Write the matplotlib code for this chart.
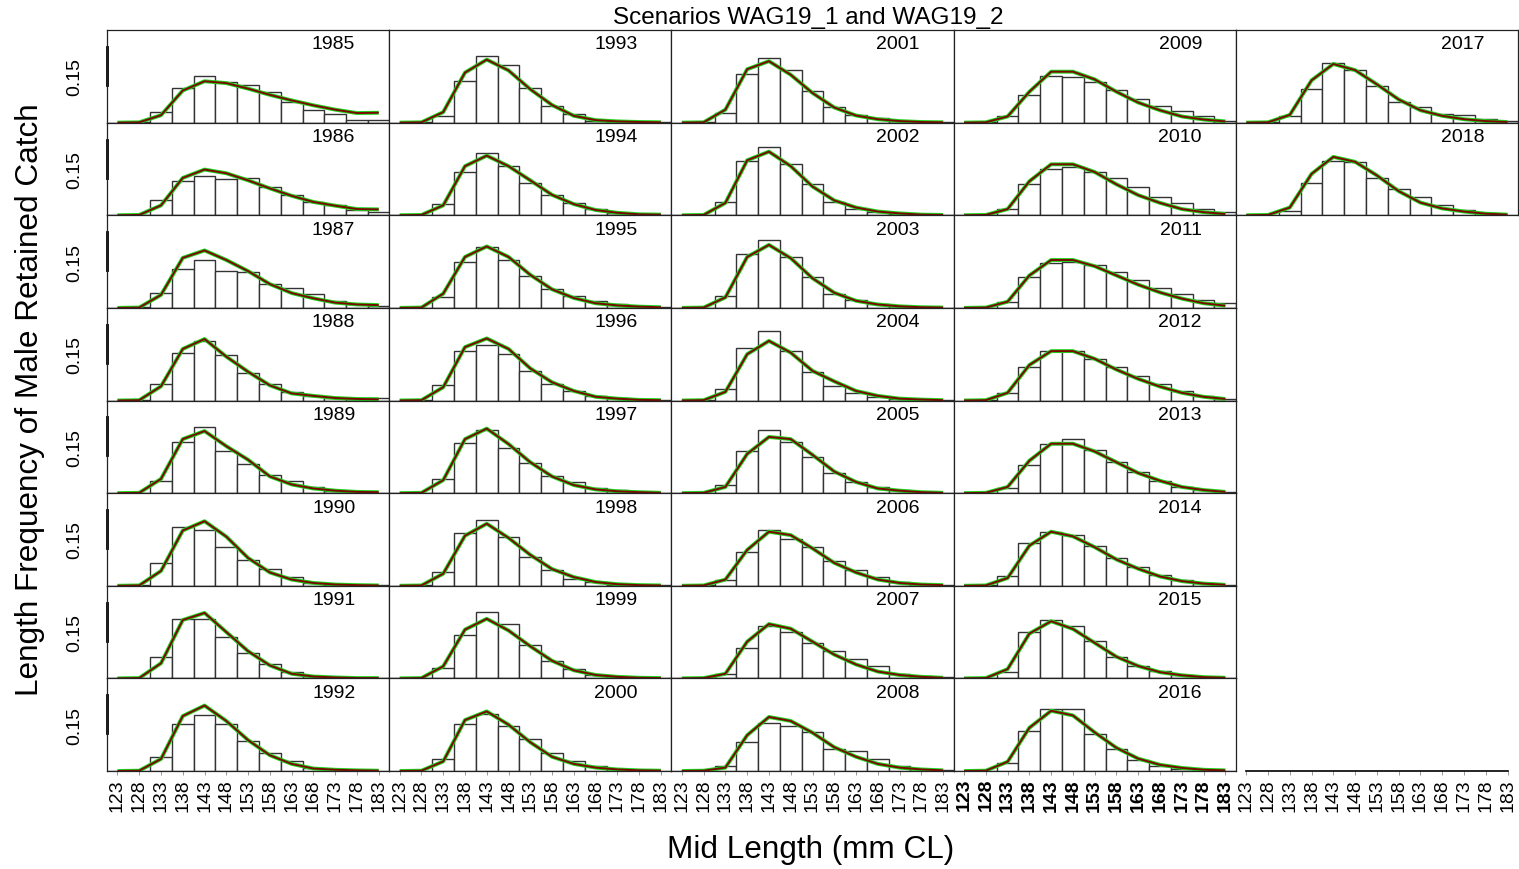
import numpy as np
import matplotlib.pyplot as plt

plt.rcParams['font.family'] = ['Liberation Sans', 'DejaVu Sans']

# mid lengths (mm CL) of the size bins
mid_length = [123, 128, 133, 138, 143, 148, 153, 158, 163, 168, 173, 178, 183]
years = list(range(1985, 2019))

obs = {
    1985: [0, 0.001, 0.036, 0.113, 0.150, 0.132, 0.122, 0.100, 0.066, 0.040, 0.027, 0.009, 0.008],
    1986: [0, 0.002, 0.051, 0.110, 0.128, 0.119, 0.122, 0.090, 0.066, 0.043, 0.032, 0.017, 0.011],
    1987: [0, 0.002, 0.048, 0.127, 0.155, 0.119, 0.116, 0.076, 0.063, 0.045, 0.023, 0.011, 0.006],
    1988: [0, 0.002, 0.054, 0.155, 0.193, 0.147, 0.088, 0.054, 0.028, 0.015, 0.008, 0.005, 0.008],
    1989: [0, 0.001, 0.039, 0.167, 0.215, 0.136, 0.093, 0.059, 0.039, 0.019, 0.008, 0.003, 0.002],
    1990: [0, 0.001, 0.074, 0.190, 0.179, 0.125, 0.082, 0.054, 0.028, 0.008, 0.004, 0.002, 0.001],
    1991: [0, 0.001, 0.068, 0.193, 0.193, 0.133, 0.083, 0.045, 0.022, 0.009, 0.002, 0.002, 0.002],
    1992: [0, 0.001, 0.046, 0.152, 0.182, 0.152, 0.097, 0.057, 0.031, 0.011, 0.005, 0.002, 0.001],
    1993: [0, 0.003, 0.022, 0.134, 0.215, 0.186, 0.111, 0.054, 0.029, 0.006, 0.003, 0.002, 0.001],
    1994: [0, 0.001, 0.036, 0.141, 0.203, 0.159, 0.105, 0.066, 0.039, 0.019, 0.008, 0.002, 0.002],
    1995: [0, 0.001, 0.034, 0.150, 0.196, 0.155, 0.104, 0.062, 0.037, 0.022, 0.011, 0.005, 0.002],
    1996: [0, 0.001, 0.049, 0.161, 0.181, 0.152, 0.097, 0.054, 0.031, 0.015, 0.008, 0.003, 0.001],
    1997: [0, 0.001, 0.046, 0.162, 0.204, 0.147, 0.097, 0.057, 0.036, 0.015, 0.011, 0.004, 0.001],
    1998: [0, 0.001, 0.043, 0.172, 0.213, 0.159, 0.094, 0.051, 0.023, 0.012, 0.004, 0.002, 0.002],
    1999: [0, 0.001, 0.034, 0.142, 0.215, 0.176, 0.108, 0.057, 0.029, 0.011, 0.005, 0.002, 0.001],
    2000: [0, 0.001, 0.039, 0.152, 0.186, 0.147, 0.104, 0.057, 0.031, 0.015, 0.008, 0.003, 0.001],
    2001: [0, 0.003, 0.031, 0.158, 0.209, 0.169, 0.104, 0.049, 0.026, 0.015, 0.006, 0.003, 0.002],
    2002: [0, 0.001, 0.043, 0.175, 0.221, 0.167, 0.100, 0.043, 0.020, 0.012, 0.005, 0.002, 0.001],
    2003: [0, 0.001, 0.039, 0.176, 0.220, 0.165, 0.100, 0.046, 0.026, 0.011, 0.005, 0.002, 0.001],
    2004: [0, 0.001, 0.036, 0.170, 0.224, 0.159, 0.093, 0.046, 0.023, 0.011, 0.004, 0.002, 0.001],
    2005: [0, 0.001, 0.026, 0.136, 0.204, 0.165, 0.116, 0.065, 0.036, 0.019, 0.011, 0.004, 0.002],
    2006: [0, 0.001, 0.020, 0.108, 0.182, 0.152, 0.125, 0.079, 0.051, 0.028, 0.012, 0.005, 0.002],
    2007: [0, 0.001, 0.015, 0.100, 0.170, 0.150, 0.114, 0.088, 0.062, 0.039, 0.015, 0.008, 0.003],
    2008: [0, 0.001, 0.015, 0.093, 0.155, 0.147, 0.127, 0.070, 0.065, 0.039, 0.015, 0.008, 0.003],
    2009: [0, 0.001, 0.020, 0.090, 0.150, 0.149, 0.130, 0.107, 0.078, 0.055, 0.039, 0.020, 0.006],
    2010: [0, 0.001, 0.020, 0.100, 0.150, 0.155, 0.140, 0.120, 0.090, 0.060, 0.040, 0.020, 0.010],
    2011: [0, 0.001, 0.020, 0.100, 0.145, 0.150, 0.140, 0.115, 0.090, 0.065, 0.045, 0.025, 0.015],
    2012: [0, 0.001, 0.025, 0.110, 0.160, 0.160, 0.135, 0.110, 0.080, 0.055, 0.030, 0.015, 0.006],
    2013: [0, 0.001, 0.015, 0.090, 0.160, 0.175, 0.140, 0.100, 0.070, 0.040, 0.020, 0.010, 0.005],
    2014: [0, 0.001, 0.030, 0.140, 0.175, 0.165, 0.130, 0.090, 0.060, 0.035, 0.020, 0.008, 0.003],
    2015: [0, 0.001, 0.020, 0.150, 0.190, 0.170, 0.120, 0.070, 0.040, 0.025, 0.012, 0.005, 0.002],
    2016: [0, 0.001, 0.025, 0.130, 0.200, 0.200, 0.120, 0.070, 0.035, 0.015, 0.008, 0.003, 0.001],
    2017: [0, 0.002, 0.022, 0.108, 0.194, 0.170, 0.118, 0.068, 0.052, 0.029, 0.024, 0.011, 0.005],
    2018: [0, 0.001, 0.014, 0.105, 0.177, 0.172, 0.121, 0.084, 0.060, 0.034, 0.016, 0.006, 0.002],
}

# model fit (WAG19_1 and WAG19_2 lie on top of each other)
fit = {
    1985: [0, 0.001, 0.024, 0.104, 0.134, 0.128, 0.110, 0.090, 0.072, 0.056, 0.042, 0.031, 0.032],
    1986: [0, 0.001, 0.032, 0.121, 0.148, 0.136, 0.113, 0.087, 0.063, 0.043, 0.031, 0.020, 0.019],
    1987: [0, 0.001, 0.042, 0.162, 0.186, 0.155, 0.119, 0.077, 0.048, 0.031, 0.017, 0.011, 0.009],
    1988: [0, 0.001, 0.046, 0.167, 0.199, 0.142, 0.093, 0.049, 0.023, 0.015, 0.008, 0.005, 0.004],
    1989: [0, 0.001, 0.046, 0.175, 0.201, 0.152, 0.108, 0.054, 0.028, 0.015, 0.008, 0.004, 0.003],
    1990: [0, 0.001, 0.048, 0.179, 0.209, 0.159, 0.090, 0.043, 0.020, 0.009, 0.004, 0.002, 0.001],
    1991: [0, 0.001, 0.049, 0.189, 0.212, 0.150, 0.088, 0.042, 0.015, 0.006, 0.003, 0.001, 0.001],
    1992: [0, 0.001, 0.039, 0.178, 0.212, 0.162, 0.100, 0.051, 0.023, 0.008, 0.004, 0.002, 0.001],
    1993: [0, 0.001, 0.034, 0.162, 0.204, 0.169, 0.108, 0.057, 0.022, 0.008, 0.004, 0.002, 0.001],
    1994: [0, 0.001, 0.032, 0.159, 0.193, 0.159, 0.113, 0.066, 0.036, 0.017, 0.008, 0.003, 0.002],
    1995: [0, 0.001, 0.046, 0.165, 0.199, 0.165, 0.107, 0.060, 0.032, 0.015, 0.008, 0.004, 0.002],
    1996: [0, 0.001, 0.043, 0.173, 0.201, 0.167, 0.104, 0.059, 0.031, 0.012, 0.006, 0.002, 0.001],
    1997: [0, 0.001, 0.042, 0.175, 0.209, 0.159, 0.100, 0.054, 0.026, 0.012, 0.006, 0.003, 0.001],
    1998: [0, 0.001, 0.039, 0.162, 0.201, 0.155, 0.100, 0.054, 0.028, 0.012, 0.005, 0.002, 0.001],
    1999: [0, 0.001, 0.039, 0.158, 0.193, 0.155, 0.104, 0.057, 0.026, 0.011, 0.005, 0.002, 0.001],
    2000: [0, 0.001, 0.031, 0.165, 0.193, 0.150, 0.093, 0.046, 0.023, 0.011, 0.005, 0.002, 0.001],
    2001: [0, 0.001, 0.042, 0.173, 0.199, 0.155, 0.096, 0.049, 0.023, 0.011, 0.005, 0.002, 0.001],
    2002: [0, 0.001, 0.040, 0.178, 0.206, 0.159, 0.093, 0.048, 0.025, 0.012, 0.006, 0.002, 0.001],
    2003: [0, 0.001, 0.034, 0.165, 0.204, 0.161, 0.096, 0.049, 0.023, 0.011, 0.005, 0.002, 0.001],
    2004: [0, 0.001, 0.028, 0.150, 0.193, 0.155, 0.096, 0.062, 0.031, 0.015, 0.006, 0.003, 0.001],
    2005: [0, 0.001, 0.020, 0.127, 0.182, 0.175, 0.124, 0.070, 0.036, 0.015, 0.008, 0.003, 0.001],
    2006: [0, 0.001, 0.020, 0.116, 0.175, 0.164, 0.121, 0.074, 0.043, 0.020, 0.009, 0.004, 0.002],
    2007: [0, 0.001, 0.015, 0.119, 0.176, 0.161, 0.119, 0.077, 0.045, 0.022, 0.011, 0.005, 0.002],
    2008: [0, 0.001, 0.011, 0.116, 0.175, 0.162, 0.124, 0.077, 0.046, 0.023, 0.011, 0.005, 0.002],
    2009: [0, 0.001, 0.020, 0.100, 0.165, 0.165, 0.140, 0.100, 0.065, 0.040, 0.020, 0.010, 0.004],
    2010: [0, 0.001, 0.020, 0.110, 0.165, 0.165, 0.140, 0.100, 0.065, 0.040, 0.020, 0.010, 0.004],
    2011: [0, 0.001, 0.020, 0.105, 0.155, 0.155, 0.135, 0.105, 0.075, 0.050, 0.030, 0.015, 0.007],
    2012: [0, 0.001, 0.025, 0.115, 0.160, 0.160, 0.135, 0.100, 0.070, 0.045, 0.025, 0.012, 0.005],
    2013: [0, 0.001, 0.020, 0.105, 0.160, 0.160, 0.135, 0.100, 0.065, 0.040, 0.020, 0.010, 0.004],
    2014: [0, 0.001, 0.025, 0.130, 0.175, 0.160, 0.125, 0.085, 0.055, 0.030, 0.015, 0.007, 0.003],
    2015: [0, 0.001, 0.030, 0.145, 0.185, 0.160, 0.115, 0.070, 0.040, 0.020, 0.010, 0.004, 0.002],
    2016: [0, 0.001, 0.030, 0.140, 0.195, 0.180, 0.125, 0.075, 0.040, 0.020, 0.010, 0.004, 0.002],
    2017: [0, 0.001, 0.025, 0.137, 0.190, 0.170, 0.124, 0.075, 0.040, 0.022, 0.011, 0.005, 0.002],
    2018: [0, 0.001, 0.025, 0.134, 0.189, 0.173, 0.129, 0.078, 0.041, 0.022, 0.012, 0.005, 0.002],
}

W, H = 1519, 870
fig = plt.figure(figsize=(W / 100, H / 100), dpi=100)

# panel grid in pixels
left, right, top, bottom = 107, 1518, 31, 772
ncol, nrow = 5, 8
pw = (right - left) / ncol
ph = (bottom - top) / nrow
xlim = (120.6, 185.4)
ylim = (0, 0.3)


def panel(col, row):
    x0 = left + col * pw
    y0 = top + (row + 1) * ph
    return fig.add_axes([x0 / W, 1 - y0 / H, pw / W, ph / H])


def bottom_ticks(ax, bold=False):
    ax.set_xticks(mid_length)
    ax.set_xticklabels([str(m) for m in mid_length], rotation=90, fontsize=14,
                       fontweight='bold' if bold else 'normal')
    ax.tick_params(axis='x', length=3, width=0.6, color='#888888', pad=2)


for i, yr in enumerate(years):
    col, row = divmod(i, nrow)
    ax = panel(col, row)
    ax.bar(mid_length, obs[yr], width=5, color='white', edgecolor='#333333', linewidth=1)
    ax.plot(mid_length, fit[yr], color='#1ed41e', lw=2.8, solid_capstyle='butt')
    ax.plot(mid_length, fit[yr], color='#7a0a00', lw=1.4, solid_capstyle='butt')
    ax.set_xlim(*xlim)
    ax.set_ylim(*ylim)
    for s in ax.spines.values():
        s.set_linewidth(0.9)
        s.set_color('#222222')
    ax.text(0.88, 0.85, str(yr), transform=ax.transAxes, ha='right', va='center', fontsize=14)
    if row == nrow - 1:
        bottom_ticks(ax, bold=(col == 3))
    else:
        ax.set_xticks([])
    if col == 0:
        ax.set_yticks([0.15])
        ax.set_yticklabels(['0.15'], rotation=90, va='center', fontsize=14)
        ax.tick_params(axis='y', length=0, pad=17)
        ax.plot([0, 0], [0.122, 0.245], transform=ax.get_yaxis_transform(),
                color='black', lw=2, clip_on=False)
    else:
        ax.set_yticks([])

# empty bottom-right panel: only the x axis
ax = panel(4, nrow - 1)
ax.set_xlim(*xlim)
ax.set_ylim(*ylim)
for s in ['top', 'left', 'right']:
    ax.spines[s].set_visible(False)
ax.spines['bottom'].set_bounds(mid_length[0], mid_length[-1])
ax.spines['bottom'].set_linewidth(1.2)
ax.set_yticks([])
bottom_ticks(ax)
ax.patch.set_visible(False)

fig.text(808 / W, 1 - 18 / H, 'Scenarios WAG19_1 and WAG19_2', ha='center', va='center', fontsize=17.5)
fig.text(811 / W, 1 - 850 / H, 'Mid Length (mm CL)', ha='center', va='center', fontsize=22.7)
fig.text(30 / W, 1 - 400 / H, 'Length Frequency of Male Retained Catch', ha='center', va='center',
         rotation=90, fontsize=22.7)

fig.savefig('out.png', dpi=100)
